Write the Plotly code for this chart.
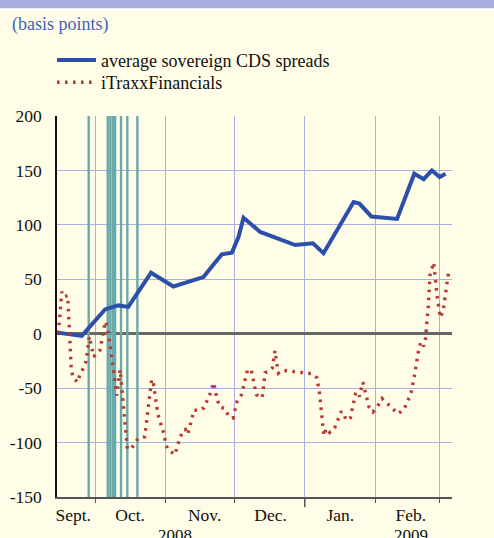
import plotly.graph_objects as go

# ---------------- data ----------------
cds_dates = ["2008-09-14 08:00", "2008-09-25 02:00", "2008-10-05 07:00", "2008-10-11 04:00",
             "2008-10-15 12:00", "2008-10-25 12:00", "2008-11-04 07:00", "2008-11-17 12:00",
             "2008-11-25 14:00", "2008-11-30 00:00", "2008-12-02 22:00", "2008-12-05 02:00",
             "2008-12-12 10:00", "2008-12-27 19:00", "2009-01-04 14:00", "2009-01-09 05:00",
             "2009-01-22 10:00", "2009-01-25 00:00", "2009-01-30 05:00", "2009-02-10 12:00",
             "2009-02-18 02:00", "2009-02-22 05:00", "2009-02-25 19:00", "2009-03-01 05:00",
             "2009-03-03 19:00"]
cds_values = [1, -2, 22.3, 26, 24.6, 56, 43.4, 52, 73, 74.5, 89, 106.5, 93.5, 81.5, 83, 74,
              121, 119.5, 107.7, 105.5, 147, 142, 150, 144, 147]

itraxx_dates = ["2008-09-14 20:00", "2008-09-16 07:00", "2008-09-17 07:00", "2008-09-18 22:00",
                "2008-09-20 12:00", "2008-09-21 10:00", "2008-09-23 07:00", "2008-09-24 07:00",
                "2008-09-25 19:00", "2008-09-27 00:00", "2008-09-28 10:00", "2008-09-30 08:00",
                "2008-10-01 16:00", "2008-10-03 02:00", "2008-10-05 10:00", "2008-10-06 12:00",
                "2008-10-10 11:00", "2008-10-11 22:00", "2008-10-15 02:00", "2008-10-17 00:00",
                "2008-10-19 22:00", "2008-10-22 17:00", "2008-10-25 19:00", "2008-10-26 10:00",
                "2008-10-28 12:00", "2008-10-31 10:00", "2008-10-31 19:00", "2008-11-02 02:00",
                "2008-11-05 02:00", "2008-11-05 22:00", "2008-11-08 10:00", "2008-11-09 14:00",
                "2008-11-10 14:00", "2008-11-13 10:00", "2008-11-15 17:00", "2008-11-17 17:00",
                "2008-11-20 17:00", "2008-11-21 22:00", "2008-11-22 14:00", "2008-11-23 10:00",
                "2008-11-24 19:00", "2008-11-27 00:00", "2008-11-28 12:00", "2008-11-30 12:00",
                "2008-12-02 07:00", "2008-12-04 05:00", "2008-12-06 19:00", "2008-12-08 12:00",
                "2008-12-10 17:00", "2008-12-13 07:00", "2008-12-14 14:00", "2008-12-16 05:00",
                "2008-12-17 17:00", "2008-12-18 22:00", "2008-12-19 19:00", "2008-12-20 12:00",
                "2008-12-22 10:00", "2008-12-29 00:00", "2009-01-04 00:00", "2009-01-06 07:00",
                "2009-01-07 12:00", "2009-01-09 00:00", "2009-01-09 10:00", "2009-01-10 10:00",
                "2009-01-11 22:00", "2009-01-14 02:00", "2009-01-16 22:00", "2009-01-18 00:00",
                "2009-01-19 02:00", "2009-01-21 00:00", "2009-01-23 07:00", "2009-01-23 22:00",
                "2009-01-25 00:00", "2009-01-26 12:00", "2009-01-29 05:00", "2009-01-30 22:00",
                "2009-02-02 00:00", "2009-02-03 22:00", "2009-02-06 02:00", "2009-02-08 17:00",
                "2009-02-11 00:00", "2009-02-13 17:00", "2009-02-16 14:00", "2009-02-18 02:00",
                "2009-02-19 19:00", "2009-02-20 22:00", "2009-02-22 05:00", "2009-02-22 22:00",
                "2009-02-24 05:00", "2009-02-25 00:00", "2009-02-26 14:00", "2009-02-28 00:00",
                "2009-03-01 12:00", "2009-03-02 19:00", "2009-03-05 07:00"]
itraxx_values = [0.5, 38.5, 34, 35, -33.6, -40.8, -44.6, -37.4, -31.8, -25.2, -2.5, -21.2,
                 -17.8, -15, 11.2, 4.5, -56.7, -33, -105.9, -105, -96, -94.7, -42, -44,
                 -74, -94, -101, -107, -111, -103.7, -89, -88, -92.5, -70, -70.7, -68,
                 -54, -45, -50.5, -60, -67.3, -68.9, -75.7, -77.3, -62.3, -56, -33.6, -33,
                 -56, -58.9, -35.8, -34.6, -31.5, -15.6, -28.3, -36.2, -33.6, -35.5, -36.7, -40.5,
                 -55, -86, -93.7, -87, -90.7, -86.6, -72, -72, -79.4, -77.3, -55, -53.3,
                 -57.7, -44.6, -67.3, -72, -66.4, -59.5, -63.8, -68, -73.6, -68.9, -54.9, -39.3,
                 -17.1, -7.5, -11.7, -5.6, 24.3, 54.3, 65.5, 35.7, 14.8, 21.8, 59]

event_dates = ["2008-09-28 03:00", "2008-10-06 12:00", "2008-10-07 15:00", "2008-10-08 17:00",
               "2008-10-09 17:00", "2008-10-12 08:00", "2008-10-15 02:00", "2008-10-19 12:00"]

y_ticks = [-150, -100, -50, 0, 50, 100, 150, 200]
y_ticktext = ["-150", "-100", "-50", "0", "50", "100", "150", "200"]
month_label_dates = ["2008-09-21 08:00", "2008-10-16 08:00", "2008-11-18 00:00",
                     "2008-12-17 00:00", "2009-01-16 14:00", "2009-02-16 14:00"]
month_labels = ["Sept.", "Oct.", "Nov.", "Dec.", "Jan.", "Feb."]
year_label_dates = ["2008-11-05 00:00", "2009-02-16 17:00"]
year_labels = ["2008", "2009"]
x_range = ["2008-09-14 05:00", "2009-03-06 15:00"]
y_range = [-150, 200]

# ---------------- styles ----------------
FONT = "Liberation Serif, Times New Roman, serif"
BG = "#fffde8"
GRID = "#a9b0e6"
BLUE = "#2c4faa"
RED = "#b53a32"
TEAL = "#6aa9ab"

fig = go.Figure()

# event lines
ex, ey = [], []
for d in event_dates:
    ex += [d, d, None]
    ey += [y_range[0], y_range[1], None]
fig.add_trace(go.Scatter(x=ex, y=ey, mode="lines", line=dict(color=TEAL, width=2.4),
                         showlegend=False, hoverinfo="skip"))

fig.add_trace(go.Scatter(x=cds_dates, y=cds_values, mode="lines",
                         name="average sovereign CDS spreads", legend="legend",
                         line=dict(color=BLUE, width=4)))
fig.add_trace(go.Scatter(x=itraxx_dates, y=itraxx_values, mode="lines",
                         name="iTraxxFinancials", legend="legend2",
                         line=dict(color=RED, width=3.4, dash="2.6px,5.4px")))

# year labels
for d, t in zip(year_label_dates, year_labels):
    fig.add_annotation(x=d, y=-0.1, xref="x", yref="paper", text=t, showarrow=False,
                       font=dict(family=FONT, size=17, color="#111"),
                       xanchor="center", yanchor="middle")

fig.add_annotation(x=-0.12, y=1.2407, xref="paper", yref="paper", text="(basis points)",
                   showarrow=False, xanchor="left", yanchor="middle",
                   font=dict(family=FONT, size=18, color="#4263b8"))

# header band
fig.add_shape(type="rect", xref="paper", yref="paper", x0=-0.2, x1=1.2, y0=1.282, y1=1.35,
              fillcolor="#a9acdf", line=dict(width=0), layer="below")
fig.add_shape(type="rect", xref="paper", yref="paper", x0=-0.2, x1=1.2, y0=1.2769, y1=1.282,
              fillcolor="#ffffff", line=dict(width=0), layer="below")
# longer year tick at Jan 1
fig.add_shape(type="line", xref="x", yref="paper", x0="2009-01-01", x1="2009-01-01",
              y0=0, y1=-0.027, line=dict(color="#555", width=1.5))

leg_common = dict(xanchor="left", yanchor="top", bgcolor="rgba(0,0,0,0)",
                  font=dict(family=FONT, size=18, color="#111"), itemwidth=39)

fig.update_layout(
    width=494, height=538,
    margin=dict(l=57, r=42, t=116, b=41, autoexpand=False),
    paper_bgcolor=BG, plot_bgcolor=BG,
    font=dict(family=FONT, size=17.5, color="#111"),
    showlegend=True,
    legend=dict(x=-0.0127, y=1.1945, **leg_common),
    legend2=dict(x=-0.0127, y=1.1363, **leg_common),
    xaxis=dict(type="date", range=x_range, tickmode="array", tickvals=month_label_dates,
               ticktext=month_labels, ticks="", showgrid=False, ticklabelstandoff=1,
               showline=True, linecolor="#555", linewidth=1.5, zeroline=False,
               minor=dict(dtick="M1", tick0="2008-09-01", ticks="outside", ticklen=4,
                          tickcolor="#555", showgrid=True, gridcolor=GRID, gridwidth=1)),
    yaxis=dict(range=y_range, tickmode="array", tickvals=y_ticks, ticktext=y_ticktext,
               ticks="", showgrid=True, gridcolor=GRID, gridwidth=1,
               zeroline=True, zerolinecolor="#666", zerolinewidth=2.5,
               showline=True, linecolor="#111", linewidth=1.5, ticklabelstandoff=10),
    yaxis2=dict(range=y_range, overlaying="y", side="right", anchor="x",
                tickmode="array", tickvals=y_ticks, ticktext=y_ticktext, ticks="",
                showgrid=False, zeroline=False, showline=True, linecolor="#555",
                linewidth=2, ticklabelstandoff=11),
)

fig.write_html("out.html", config={"displayModeBar": False},
               post_script="document.body.style.margin='0';"
                           "document.body.style.background='#fffde8';")
